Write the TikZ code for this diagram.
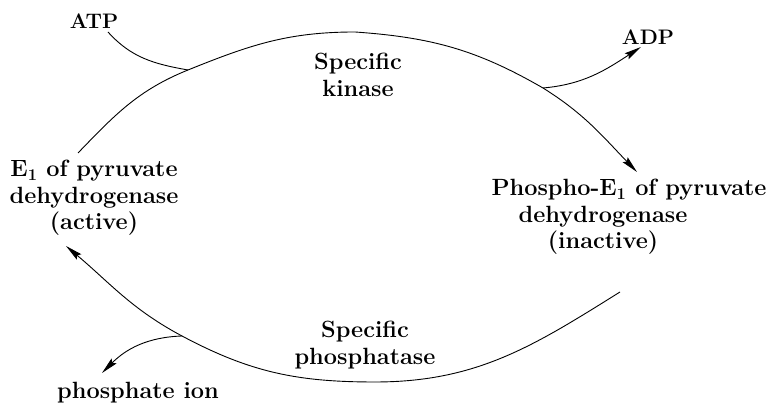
\documentclass[tikz,border=0pt]{standalone}
\usepackage{fontspec}
\usetikzlibrary{arrows.meta}
\begin{document}
\begin{tikzpicture}[x=1pt,y=1pt,
  lbl/.style={font=\fontsize{23.5}{26.5}\selectfont\bfseries, inner sep=1pt, align=center},
  sml/.style={font=\fontsize{21}{24}\selectfont\bfseries, inner sep=1pt},
  curve/.style={line width=0.9pt},
  arr/.style={curve, -{Stealth[length=17pt,width=7pt,inset=2.5pt]}}]
\useasboundingbox (0,0) rectangle (772,403);
% labels
\node[sml] (atp) at (94,382) {ATP};
\node[sml] (adp) at (648,366) {ADP};
\node[lbl] (kin) at (358,328) {Specific\\kinase};
\node[lbl] (e1) at (94,205) {E\textsubscript{1} of pyruvate\\dehydrogenase\\(active)};
\node[lbl] (pe1) at (603,186) {\hspace*{52pt}Phospho-E\textsubscript{1} of pyruvate\\dehydrogenase\\(inactive)};
\node[lbl] (pho) at (365,58) {Specific\\phosphatase};
\node[lbl] (pion) at (138,10) {phosphate ion};
% points on the kinase arc
\coordinate (a0) at (78,250);
\coordinate (j1) at (188,333);
\coordinate (ktop) at (355,371);
\coordinate (j2) at (543,315);
\coordinate (t1) at (637,231);
% points on the phosphatase arc
\coordinate (s0) at (620,111);
\coordinate (pbot) at (375,21);
\coordinate (j3) at (182,67);
\coordinate (t2) at (66,157);
% free ends
\coordinate (atpst) at (108,371);
\coordinate (adptip) at (641,356);
\coordinate (phtip) at (102,30);
% kinase arc
\draw[arr] (a0) to[out=46,in=202] (j1) to[out=22,in=180] (ktop)
  to[out=-4,in=150] (j2) to[out=-32,in=134] (t1);
\draw[curve] (atpst) to[out=-48,in=170] (j1);
\draw[arr] (j2) to[out=5,in=213] (adptip);
% phosphatase arc
\draw[arr] (s0) to[out=212,in=0] (pbot) to[out=180,in=-28] (j3)
  to[out=152,in=-40] (t2);
\draw[arr] (j3) to[out=182,in=45] (phtip);
\end{tikzpicture}
\end{document}
